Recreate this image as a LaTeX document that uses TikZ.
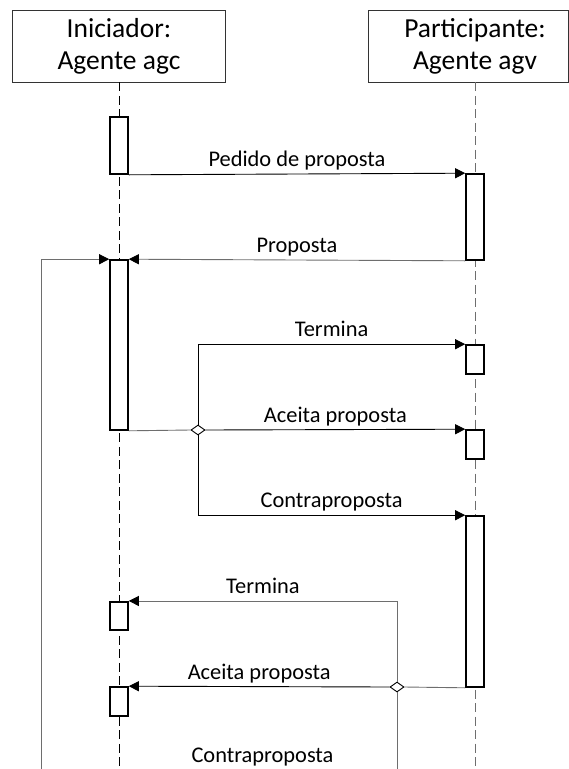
\documentclass[tikz,border=0pt]{standalone}
\usepackage{fontspec}
\setmainfont{Carlito}
\usetikzlibrary{arrows.meta, shapes.geometric}
\definecolor{linegray}{RGB}{110,110,110}

\begin{document}
\begin{tikzpicture}[x=1pt, y=-1pt,
        agent/.style={draw=black!80, line width=0.8pt, minimum width=213.3pt, minimum height=71.3pt, inner sep=0pt, align=center, font=\fontsize{27.5}{32}\selectfont},
        bar/.style={draw, fill=white, line width=1.6pt, minimum width=18pt, inner sep=0pt},
        choice/.style={diamond, draw, fill=white, line width=0.9pt, minimum width=14pt, minimum height=10pt, inner sep=0pt},
        msg/.style={line width=0.9pt, -{Triangle[length=10pt,width=10pt,color=black]}},
        msgfont/.style={font=\fontsize{22.4}{26}\selectfont, text depth=0pt, inner sep=0pt},
        lbl/.style={msgfont, text=black, above=7pt},
        life/.style={line width=0.9pt, dash pattern=on 9pt off 4.5pt}]
        \useasboundingbox (0,0) rectangle (569,769);
        \coordinate (bot) at (0,769);
        \coordinate (agvb) at (475,82);
        \coordinate (lft) at (41,769);

        % lifelines
        \node[agent] (agc) at (119,46.3) {Iniciador:\\Agente agc};
        \node[agent, draw=none] (agv) at (475,46.3) {Participante:\\Agente agv};
        \draw[draw=black!80, line width=0.8pt] (368,10.7) rectangle (568.6,82);
        \draw[life] (agc.south) -- (agc.south |- bot);
        \draw[life, linegray] (agvb) -- (agvb |- bot);

        % activations
        \node[bar, minimum height=57pt] (c1) at (119,145.5) {};
        \node[bar, minimum height=86pt] (v1) at (475,217) {};
        \node[bar, minimum height=170pt] (c2) at (119,345) {};
        \node[bar, minimum height=29pt] (v2) at (475,359.5) {};
        \node[bar, minimum height=29pt] (v3) at (475,444.5) {};
        \node[bar, minimum height=171pt] (v4) at (475,601.5) {};
        \node[bar, minimum height=28.5pt] (c3) at (119,616) {};
        \node[bar, minimum height=29pt] (c4) at (119,701.5) {};

        \node[choice] (d1) at (198,430) {};
        \node[choice] (d2) at (397,687) {};

        % messages
        \draw[msg] (c1.south east) -- node[lbl] {Pedido de proposta} (v1.north west);
        \draw[msg, linegray] (v1.south west) -- node[lbl] {Proposta} (c2.north east);
        \draw[msg, linegray] (lft) |- (c2.north west);

        \draw[line width=0.9pt, linegray] (c2.south east) -- (d1.west);
        \draw[msg] (d1.east) -- node[lbl] {Aceita proposta} (v3.north west);
        \draw[msg] (d1.north) |- node[lbl, pos=0.75] {Termina} (v2.north west);
        \draw[msg] (d1.south) |- node[lbl, pos=0.75] {Contraproposta} (v4.north west);

        \draw[line width=0.9pt, linegray] (v4.south west) -- (d2.east);
        \draw[msg] (d2.west) -- node[lbl] {Aceita proposta} (c4.north east);
        \draw[msg, linegray] (d2.north) |- node[lbl, pos=0.75] {Termina} (c3.north east);
        \draw[line width=0.9pt, linegray] (d2.south) -- (d2.south |- bot);
        \node[msgfont, anchor=base] (cp) at (262.5,762.5) {Contraproposta};
\end{tikzpicture}
\end{document}
